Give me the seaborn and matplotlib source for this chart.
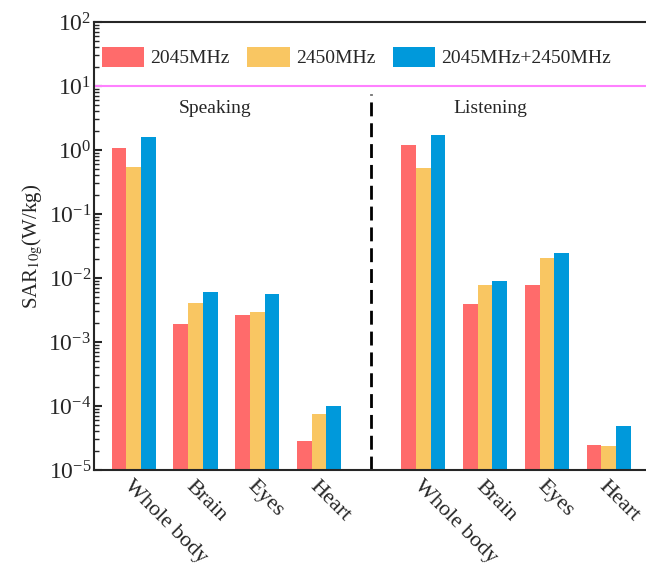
import numpy as np
import pandas as pd
import matplotlib
matplotlib.use("Agg")
import matplotlib.pyplot as plt
import seaborn as sns

# SAR10g values (W/kg)
organs = ["Whole body", "Brain", "Eyes", "Heart"]
states = ["Speaking", "Listening"]
bands = ["2045MHz", "2450MHz", "2045MHz+2450MHz"]

speaking_2045 = [1.06, 1.9e-3, 2.6e-3, 2.8e-5]
speaking_2450 = [0.54, 4.1e-3, 2.9e-3, 7.5e-5]
speaking_both = [1.62, 6.0e-3, 5.6e-3, 9.9e-5]

listening_2045 = [1.18, 3.9e-3, 7.8e-3, 2.45e-5]
listening_2450 = [0.52, 7.8e-3, 2.08e-2, 2.4e-5]
listening_both = [1.72, 8.9e-3, 2.5e-2, 4.9e-5]

limit_value = 10  # SAR limit line

colors = ["#FF6B6B", "#F9C662", "#0099DB"]

# build long table
gap = 0.686  # extra space between the two groups
rows = []
series = {
    "Speaking": [speaking_2045, speaking_2450, speaking_both],
    "Listening": [listening_2045, listening_2450, listening_both],
}
for s, state in enumerate(states):
    for b, band in enumerate(bands):
        for i, organ in enumerate(organs):
            rows.append({"x": i + s * (len(organs) + gap), "organ": organ,
                         "state": state, "band": band,
                         "sar": series[state][b][i]})
df = pd.DataFrame(rows)

sns.set_style("ticks")
plt.rcParams["font.family"] = ["Liberation Serif", "DejaVu Serif"]
plt.rcParams["mathtext.fontset"] = "stix"
plt.rcParams["axes.linewidth"] = 1.5

fig = plt.figure(figsize=(6.46, 5.69), dpi=100)
ax = fig.add_axes([0.1455, 0.174, 0.8545, 0.7873])

sns.barplot(data=df, x="x", y="sar", hue="band", hue_order=bands,
            palette=colors, native_scale=True, width=0.714,
            ax=ax, saturation=1, linewidth=0)
ax.set_yscale("log")

ax.set_ylim(1e-5, 1e2)
ax.set_xlim(-0.642, 8.29)

# limit line and separator
ax.axhline(limit_value, color="#FF80FF", lw=1.5)
sep = len(organs) - 1 + (1 + gap) / 2
ax.axvline(sep, ymin=0, ymax=0.84, color="black", lw=2, ls=(0, (5, 2.5)))

ax.text(1.31, 0.808, "Speaking", transform=ax.get_xaxis_transform(),
        ha="center", va="center", fontsize=14)
ax.text(5.77, 0.808, "Listening", transform=ax.get_xaxis_transform(),
        ha="center", va="center", fontsize=14)

xticks = sorted(df["x"].unique())
ax.set_xticks(xticks)
ax.set_xticklabels(organs * 2, rotation=-45, ha="left", va="top",
                   rotation_mode="anchor", fontsize=16)
ax.tick_params(axis="x", length=0, pad=5)
ax.tick_params(axis="y", which="major", direction="in", length=6, width=1.5,
               labelsize=17, pad=2)
ax.tick_params(axis="y", which="minor", direction="in", length=3.5, width=1)

ax.set_xlabel("")
ax.set_ylabel(r"SAR$_{10\mathrm{g}}$(W/kg)", fontsize=15, labelpad=2)

ax.spines["right"].set_visible(False)

sns.move_legend(ax, loc="center", bbox_to_anchor=(0.475, 0.922), ncol=3,
                frameon=False, title=None, fontsize=14, handlelength=2.2,
                handleheight=1.2, handletextpad=0.3, columnspacing=0.9)

fig.savefig("out.png", dpi=100)
